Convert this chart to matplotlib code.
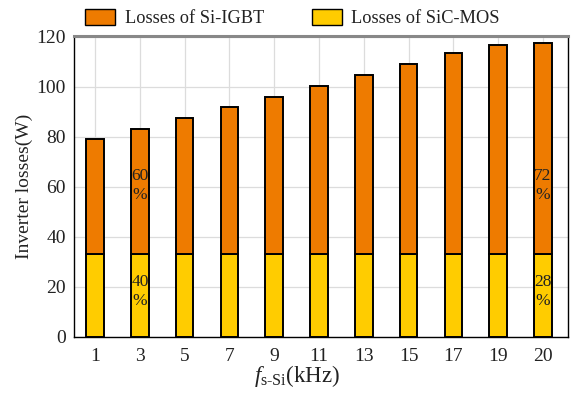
import matplotlib
matplotlib.use("Agg")
import matplotlib.pyplot as plt
import numpy as np
from matplotlib.patches import Patch

plt.rcParams['font.family'] = ['Liberation Serif', 'DejaVu Serif']
plt.rcParams['mathtext.fontset'] = 'custom'
plt.rcParams['mathtext.rm'] = 'Liberation Serif'
plt.rcParams['mathtext.it'] = 'Liberation Serif:italic'

# Switching frequency of the Si device (kHz)
freqs = ['1', '3', '5', '7', '9', '11', '13', '15', '17', '19', '20']
# Total inverter losses (W)
total_loss = [79.0, 83.2, 87.5, 91.9, 96.1, 100.5, 104.9, 109.2, 113.5, 116.9, 117.7]
# SiC-MOS share of the losses (W)
sic_loss = [33.2, 33.2, 33.2, 33.2, 33.2, 33.2, 33.2, 33.2, 33.2, 33.2, 33.2]
# Bars that carry a percentage annotation
annotated = [1, 10]

si_loss = [t - s for t, s in zip(total_loss, sic_loss)]

c_si = '#EE7B00'
c_sic = '#FFCC00'

fig = plt.figure(figsize=(5.71, 4.03), dpi=100)
ax = fig.add_axes([0.1296, 0.1638, 0.8652, 0.7469])

x = np.arange(len(freqs))
w = 0.39
ax.bar(x, sic_loss, w, color=c_sic, edgecolor='black', linewidth=1.4, zorder=3)
ax.bar(x, si_loss, w, bottom=sic_loss, color=c_si, edgecolor='black', linewidth=1.4, zorder=3)

for i in annotated:
    p_sic = round(100 * sic_loss[i] / total_loss[i])
    p_si = 100 - p_sic
    ax.text(x[i], 60.5, f'{p_si}\n%', ha='center', va='center',
            fontsize=12.5, linespacing=1.25, color='#222222', zorder=4)
    ax.text(x[i], 18.0, f'{p_sic}\n%', ha='center', va='center',
            fontsize=12.5, linespacing=1.25, color='#222222', zorder=4)

ax.set_xlim(-0.47, 10.56)
ax.set_ylim(0, 120.4)
ax.set_yticks(np.arange(0, 121, 20))
ax.set_xticks(x)
ax.set_xticklabels(freqs)
ax.tick_params(axis='both', labelsize=14, length=0, pad=6, colors='#222222')
ax.tick_params(axis='x', pad=8)

ax.grid(True, color='#dcdcdc', linewidth=0.9, zorder=0)
ax.set_axisbelow(True)

for s in ['left', 'bottom', 'right']:
    ax.spines[s].set_color('black')
    ax.spines[s].set_linewidth(1.0)
ax.spines['top'].set_color('#888888')
ax.spines['top'].set_linewidth(2.2)

ax.set_ylabel('Inverter losses(W)', fontsize=14, labelpad=2, color='#222222')
ax.set_xlabel(r'$f_{\mathrm{s\text{-}Si}}$(kHz)', fontsize=16.5, color='#222222')
ax.xaxis.set_label_coords(0.452, -0.088)

handles = [Patch(facecolor=c_si, edgecolor='black', linewidth=1.0, label='Losses of Si-IGBT'),
           Patch(facecolor=c_sic, edgecolor='black', linewidth=1.0, label='Losses of SiC-MOS')]
fig.legend(handles=handles, loc='center', bbox_to_anchor=(0.512, 0.955), ncol=2,
           frameon=False, fontsize=13.2, handlelength=1.65, handleheight=0.95,
           columnspacing=2.6, handletextpad=0.5, labelcolor='#222222')

fig.savefig('out.png', dpi=100)
